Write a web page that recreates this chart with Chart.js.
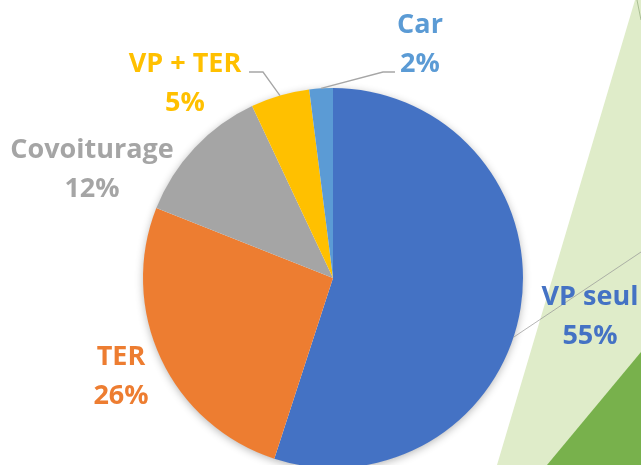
<!DOCTYPE html>
<html>
<head>
<meta charset="utf-8">
<script src="https://cdn.jsdelivr.net/npm/chart.js@4.4.1/dist/chart.umd.min.js"></script>
<style>
  html, body { margin: 0; padding: 0; background: #ffffff; overflow: hidden; width: 641px; height: 465px; }
  canvas { display: block; }
</style>
</head>
<body>
<canvas id="c" width="641" height="480"></canvas>
<script>
// ---- data ----
const categories = ["VP seul", "TER", "Covoiturage", "VP + TER", "Car"];
const shares = [55, 26, 12, 5, 2];
const percentLabels = ["55%", "26%", "12%", "5%", "2%"];

// ---- styles ----
const sliceColors = ["#4472C4", "#ED7D31", "#A5A5A5", "#FFC000", "#5B9BD5"];
// label placement relative to pie centre (px): centre x, first baseline
const labelOffsets = [[257, 27], [-212, 87], [-241, -120], [-148, -206], [87, -245]];
// leader lines: [elbow dx, elbow dy, end dx, end dy] relative to centre, or null
const leaders = [null, null, null, [-70, -206, -84, -206], [50, -206, 62, -206]];

const backgroundPlugin = {
  id: 'bg',
  beforeDraw(chart) {
    const ctx = chart.ctx;
    ctx.save();
    ctx.fillStyle = '#ffffff';
    ctx.fillRect(0, 0, chart.width, chart.height);
    // light green band
    ctx.fillStyle = '#DFECC9';
    ctx.beginPath();
    ctx.moveTo(497, 465);
    ctx.lineTo(635, 0);
    ctx.lineTo(641, 0);
    ctx.lineTo(641, 480);
    ctx.lineTo(492, 480);
    ctx.closePath();
    ctx.fill();
    // thin edge line at top right
    ctx.strokeStyle = '#A9BE93';
    ctx.lineWidth = 1;
    ctx.beginPath();
    ctx.moveTo(637, 0);
    ctx.lineTo(641, 20);
    ctx.stroke();
    // dark green triangle
    ctx.fillStyle = '#78B14C';
    ctx.beginPath();
    ctx.moveTo(547, 465);
    ctx.lineTo(641, 352);
    ctx.lineTo(641, 480);
    ctx.lineTo(535, 480);
    ctx.closePath();
    ctx.fill();
    ctx.restore();
  }
};

const shadowPlugin = {
  id: 'pieShadow',
  beforeDatasetsDraw(chart) {
    const arc = chart.getDatasetMeta(0).data[0];
    if (!arc) return;
    const ctx = chart.ctx;
    ctx.save();
    ctx.shadowColor = 'rgba(0,0,0,0.30)';
    ctx.shadowBlur = 9;
    ctx.shadowOffsetX = 0;
    ctx.shadowOffsetY = 2;
    ctx.fillStyle = '#ffffff';
    ctx.beginPath();
    ctx.arc(arc.x, arc.y, arc.outerRadius - 0.5, 0, Math.PI * 2);
    ctx.fill();
    ctx.restore();
  }
};

const labelPlugin = {
  id: 'pieLabels',
  afterDatasetsDraw(chart) {
    const ctx = chart.ctx;
    const meta = chart.getDatasetMeta(0);
    ctx.save();
    meta.data.forEach((arc, i) => {
      const cx = arc.x, cy = arc.y, r = arc.outerRadius;
      const mid = (arc.startAngle + arc.endAngle) / 2;
      const px = cx + Math.cos(mid) * r, py = cy + Math.sin(mid) * r;
      if (leaders[i]) {
        const L = leaders[i];
        ctx.strokeStyle = '#A6A6A6';
        ctx.lineWidth = 1.3;
        ctx.beginPath();
        ctx.moveTo(px, py);
        ctx.lineTo(cx + L[0], cy + L[1]);
        ctx.lineTo(cx + L[2], cy + L[3]);
        ctx.stroke();
      }
      if (i === 0) {
        // faint line from the VP seul slice to the right edge
        const a = mid + 0.16;
        ctx.strokeStyle = 'rgba(150,150,150,0.7)';
        ctx.lineWidth = 1;
        ctx.beginPath();
        ctx.moveTo(cx + Math.cos(a) * r, cy + Math.sin(a) * r);
        ctx.lineTo(chart.width, cy - 26);
        ctx.stroke();
      }
    });
    ctx.font = 'bold 27px "Open Sans"';
    ctx.textAlign = 'center';
    ctx.textBaseline = 'alphabetic';
    meta.data.forEach((arc, i) => {
      const o = labelOffsets[i];
      ctx.fillStyle = sliceColors[i];
      ctx.fillText(categories[i], arc.x + o[0], arc.y + o[1]);
      ctx.fillText(percentLabels[i], arc.x + o[0], arc.y + o[1] + 39);
    });
    ctx.restore();
  }
};

new Chart(document.getElementById('c'), {
  type: 'pie',
  data: {
    labels: categories,
    datasets: [{
      data: shares,
      backgroundColor: sliceColors,
      borderWidth: 0,
      hoverOffset: 0
    }]
  },
  options: {
    responsive: false,
    animation: false,
    devicePixelRatio: 1,
    layout: { padding: { left: 143, right: 118, top: 88, bottom: 12 } },
    plugins: {
      legend: { display: false },
      tooltip: { enabled: false }
    },
    events: []
  },
  plugins: [backgroundPlugin, shadowPlugin, labelPlugin]
});
</script>
</body>
</html>
